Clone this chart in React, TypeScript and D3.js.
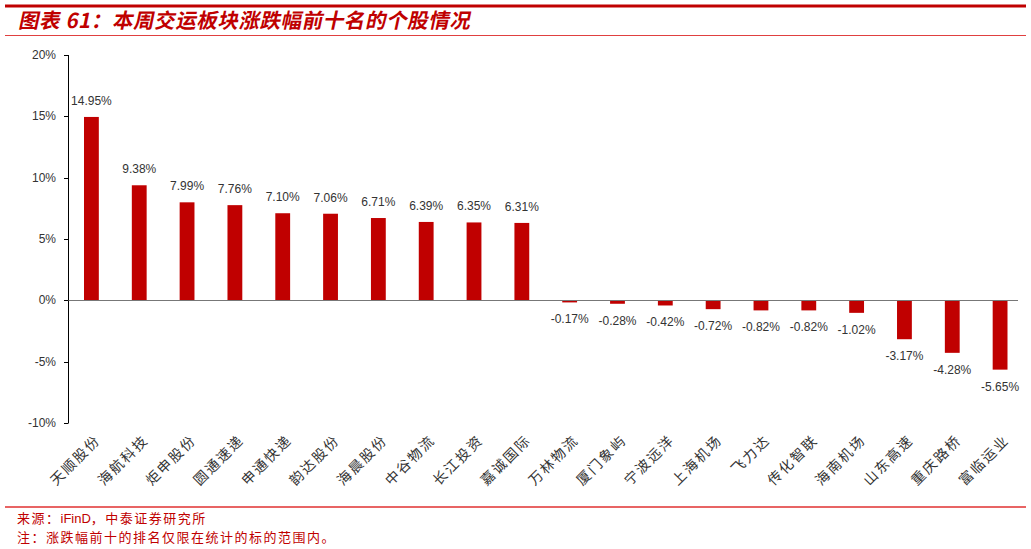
import React from "react";
import * as d3 from "d3";

const categories = ["天顺股份","海航科技","炬申股份","圆通速递","申通快递","韵达股份","海晨股份","中谷物流","长江投资","嘉诚国际","万林物流","厦门象屿","宁波远洋","上海机场","飞力达","传化智联","海南机场","山东高速","重庆路桥","富临运业"];
const values = [14.95,9.38,7.99,7.76,7.10,7.06,6.71,6.39,6.35,6.31,-0.17,-0.28,-0.42,-0.72,-0.82,-0.82,-1.02,-3.17,-4.28,-5.65];
const yTicks = [-10,-5,0,5,10,15,20];
const title = "图表 61：本周交运板块涨跌幅前十名的个股情况";
const sourceParts = ["来源：", "iFinD", "，中泰证券研究所"];
const note = "注：涨跌幅前十的排名仅限在统计的标的范围内。";

export default function App() {
  const W = 1031, H = 549;
  const x = d3.scaleBand<string>().domain(categories).range([67.5, 1024]).paddingInner(0.69).paddingOuter(0.345);
  const y = d3.scaleLinear().domain([-10, 20]).range([423, 55]);
  const red = "#c00000";
  const cjk = "'Noto Sans CJK SC', sans-serif";
  const num = "'Liberation Sans', Arial, sans-serif";
  return (
    <svg width={W} height={H} style={{ position: "absolute", left: 0, top: 0, background: "#fff" }}>
      <rect x={0} y={0} width={W} height={H} fill="#fff" />
      <line x1={5} x2={1026} y1={6} y2={6} stroke={red} strokeWidth={3} />
      <text x={18} y={28} fill={red} fontFamily={cjk} fontSize={20.5} fontWeight="bold" letterSpacing={0.6} style={{ transform: "skewX(-12deg)", transformOrigin: "18px 28px" }}>{title}</text>
      <line x1={5} x2={1026} y1={35.5} y2={35.5} stroke="#e04040" strokeWidth={1} />
      {/* y axis */}
      <line x1={68.5} x2={68.5} y1={y(20)} y2={y(-10)} stroke="#000" strokeWidth={1} />
      {yTicks.map(t => (
        <g key={t}>
          <line x1={64} x2={68.5} y1={Math.round(y(t)) + 0.5} y2={Math.round(y(t)) + 0.5} stroke="#000" />
          <text x={56} y={y(t) + 4} textAnchor="end" fontFamily={num} fontSize={12} fill="#333">{t}%</text>
        </g>
      ))}
      {/* bars */}
      {categories.map((c, i) => {
        const v = values[i];
        const bx = x(c)!;
        const y0 = y(0), y1 = y(v);
        return (
          <g key={c}>
            <rect x={bx} y={Math.min(y0, y1)} width={x.bandwidth()} height={Math.abs(y1 - y0)} fill={red} />
            <text x={bx + x.bandwidth() / 2} y={v >= 0 ? y1 - 12 : y1 + 21} textAnchor="middle" fontFamily={num} fontSize={12} fill="#333">{v.toFixed(2)}%</text>
          </g>
        );
      })}
      <line x1={68.5} x2={1018} y1={Math.round(y(0)) + 0.5} y2={Math.round(y(0)) + 0.5} stroke="#777" strokeWidth={1} />
      {/* category labels */}
      {categories.map((c) => {
        const cx = x(c)! + x.bandwidth() / 2 + 10;
        const cy = 441;
        return (
          <text key={c} x={cx} y={cy} textAnchor="end" fontFamily={cjk} fontSize={14} letterSpacing={2} fill="#333" transform={`rotate(-45 ${cx} ${cy})`}>{c}</text>
        );
      })}
      <line x1={5} x2={1026} y1={507} y2={507} stroke="#e03030" strokeWidth={1.5} />
      <text x={17} y={523} fill={red} fontFamily={cjk} fontSize={13}>
        <tspan letterSpacing={1.5}>{sourceParts[0]}</tspan>
        <tspan fontFamily={num}>{sourceParts[1]}</tspan>
        <tspan letterSpacing={1.5}>{sourceParts[2]}</tspan>
      </text>
      <text x={17} y={542} fill={red} fontFamily={cjk} fontSize={13} letterSpacing={1.5}>{note}</text>
    </svg>
  );
}
